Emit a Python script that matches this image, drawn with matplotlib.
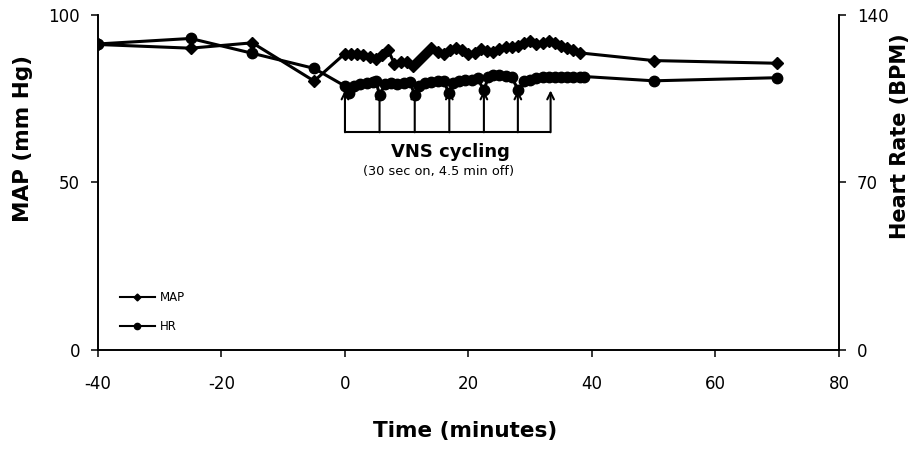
import matplotlib
matplotlib.use("Agg")
import matplotlib.pyplot as plt
from matplotlib.lines import Line2D

plt.rcParams['font.family'] = ['DejaVu Sans']
plt.rcParams['axes.unicode_minus'] = False

# MAP (mm Hg) vs time (minutes)
map_time = [-40, -25, -15, -5, 0, 1, 2, 3, 4, 5, 6, 7, 8, 9, 10, 11, 12, 13, 14,
            15, 16, 17, 18, 19, 20, 21, 22, 23, 24, 25, 26, 27, 28, 29, 30, 31,
            32, 33, 34, 35, 36, 37, 38, 50, 70]
map_vals = [91.2, 90.1, 91.7, 80.3, 88.5, 88.5, 88.3, 88.0, 87.5, 87.0, 88.0,
            89.5, 85.5, 86.0, 86.0, 84.8, 86.5, 88.5, 90.2, 89.0, 88.5, 89.5,
            90.3, 89.5, 88.3, 88.8, 90.0, 89.3, 89.0, 90.0, 90.5, 90.5, 90.8,
            91.5, 92.3, 91.3, 91.5, 92.3, 91.5, 90.8, 90.3, 89.5, 88.7, 86.4, 85.6]

# Heart rate (BPM) vs time (minutes)
hr_time = [-40, -25, -15, -5, 0, 0.6, 1.5, 2.5, 3.5, 4.5, 5.0, 5.6, 6.5, 7.5,
           8.5, 9.5, 10.5, 11.3, 12, 13, 14, 15, 16, 16.8, 17.5, 18.5, 19.5,
           20.5, 21.5, 22.5, 23.2, 24, 25, 26, 27, 28.1, 29, 30, 31, 32, 33,
           34, 35, 36, 37, 38, 38.7, 50, 70]
hr_vals = [127.9, 130.2, 124.0, 117.7, 110.3, 107.5, 110.5, 111.0, 111.5, 112.0,
           112.5, 106.6, 111.0, 111.5, 111.0, 111.5, 112.0, 106.6, 110.5, 111.5,
           112.0, 112.3, 112.5, 107.4, 111.5, 112.5, 113.0, 113.0, 113.5, 108.5,
           114.0, 115.0, 114.8, 114.5, 114.0, 108.5, 112.5, 113.0, 113.5, 114.0,
           114.2, 114.3, 114.3, 114.3, 114.3, 114.3, 114.3, 112.5, 113.8]

# VNS stimulation onsets (minutes)
stim_times = [0, 5.6, 11.3, 16.9, 22.5, 28.0, 33.3]

fig = plt.figure(figsize=(9.13, 4.51), dpi=100)
ax = fig.add_axes([0.1073, 0.224, 0.8116, 0.7427])
ax2 = ax.twinx()

ax.plot(map_time, map_vals, color='black', lw=2.2, marker='D', markersize=6.5, zorder=3)
ax2.plot(hr_time, hr_vals, color='black', lw=2.2, marker='o', markersize=7.5, zorder=3)

ax.set_xlim(-40, 80)
ax.set_ylim(0, 100)
ax2.set_ylim(0, 140)
ax.set_xticks([-40, -20, 0, 20, 40, 60, 80])
ax.set_yticks([0, 50, 100])
ax2.set_yticks([0, 70, 140])

for a in (ax, ax2):
    a.spines['top'].set_visible(False)
    for s in a.spines.values():
        s.set_linewidth(1.2)
    a.tick_params(direction='out', length=5, width=1.1, labelsize=12, pad=8)
ax.tick_params(axis='x', pad=13)

ax.set_xlabel('Time (minutes)', fontsize=15.5, fontweight='bold', va='center')
ax.set_ylabel('MAP (mm Hg)', fontsize=15.5, fontweight='bold', va='center')
ax2.set_ylabel('Heart Rate (BPM)', fontsize=15, fontweight='bold', va='center')
ax.xaxis.set_label_coords(0.495, -0.242)
ax.yaxis.set_label_coords(-0.101, 0.631)
ax2.yaxis.set_label_coords(1.082, 0.639)

# VNS cycling arrows
bracket_y = 65.2
tip_y = 77.5
ax.hlines(bracket_y, stim_times[0], stim_times[-1], color='black', lw=1.5)
for t in stim_times:
    ax.annotate('', xy=(t, tip_y), xytext=(t, bracket_y - 0.2),
                arrowprops=dict(arrowstyle='->', color='black', lw=1.5,
                                shrinkA=0, shrinkB=0, mutation_scale=12))
ax.text(17.1, 59.2, 'VNS cycling', ha='center', va='center', fontsize=13, fontweight='bold')
ax.text(15.2, 53.2, '(30 sec on, 4.5 min off)', ha='center', va='center', fontsize=9.3)

handles = [Line2D([], [], color='black', lw=1.5, marker='D', markersize=3.5),
           Line2D([], [], color='black', lw=1.5, marker='o', markersize=4.5)]
ax.legend(handles, ['MAP', 'HR'], loc='lower left', bbox_to_anchor=(0.015, 0.02),
          frameon=False, fontsize=8.5, labelspacing=1.3, handlelength=3.0,
          handletextpad=0.4)

fig.savefig('out.png', dpi=100)
